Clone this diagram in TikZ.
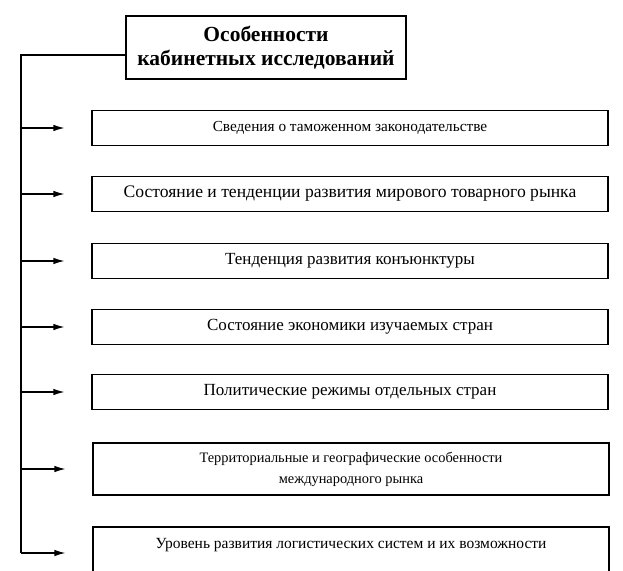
\documentclass[tikz,border=0pt]{standalone}
\usepackage{fontspec}
\setmainfont{Liberation Serif}
\usetikzlibrary{arrows.meta,shapes}

\begin{document}
\begin{tikzpicture}[x=1pt,y=-1pt]
\tikzstyle{every node}=[draw,line width=1.2pt,fill=white,align=center,inner sep=2pt]
\tikzstyle{head}=[minimum width=280pt,minimum height=63pt,font=\fontsize{21.5}{23.5}\selectfont\bfseries]
\tikzstyle{item}=[minimum width=516pt,minimum height=35pt,font=\fontsize{17}{21}\selectfont]
\tikzstyle{small}=[font=\fontsize{15.3}{21}\selectfont]
\tikzstyle{tall}=[minimum height=52pt,font=\fontsize{14.4}{21}\selectfont]
\tikzstyle{link}=[-{Latex[length=11pt,width=6.5pt]},line width=1.2pt,shorten >=27pt]
\useasboundingbox (0,0) rectangle (623,570);
\node[head] (title) at (266,47.5) {Особенности\\кабинетных исследований};
\node[item,small] (b1) at (350,128) {Сведения о таможенном законодательстве};
\node[item,font=\fontsize{17.6}{21}\selectfont] (b2) at (350,194) {Состояние и тенденции развития мирового товарного рынка};
\node[item] (b3) at (350,261) {Тенденция развития конъюнктуры};
\node[item] (b4) at (350,327) {Состояние экономики изучаемых стран};
\node[item] (b5) at (350,392) {Политические режимы отдельных стран};
\node[item,tall] (b6) at (351,469) {Территориальные и географические особенности\\международного рынка};
\node[item,tall,font=\fontsize{15.5}{19}\selectfont] (b7) at (351,553) {Уровень развития логистических систем и их возможности\\~};
\coordinate (top) at (21,55);
\coordinate (bot) at (21,553);
% trunk
\draw[line width=1.2pt] (title.west |- top) -- (top) -- (bot);
% branches
\draw[link] (b1.west -| top) -- (b1.west);
\draw[link] (b2.west -| top) -- (b2.west);
\draw[link] (b3.west -| top) -- (b3.west);
\draw[link] (b4.west -| top) -- (b4.west);
\draw[link] (b5.west -| top) -- (b5.west);
\draw[link] (b6.west -| top) -- (b6.west);
\draw[link] (b7.west -| top) -- (b7.west);
\end{tikzpicture}
\end{document}
